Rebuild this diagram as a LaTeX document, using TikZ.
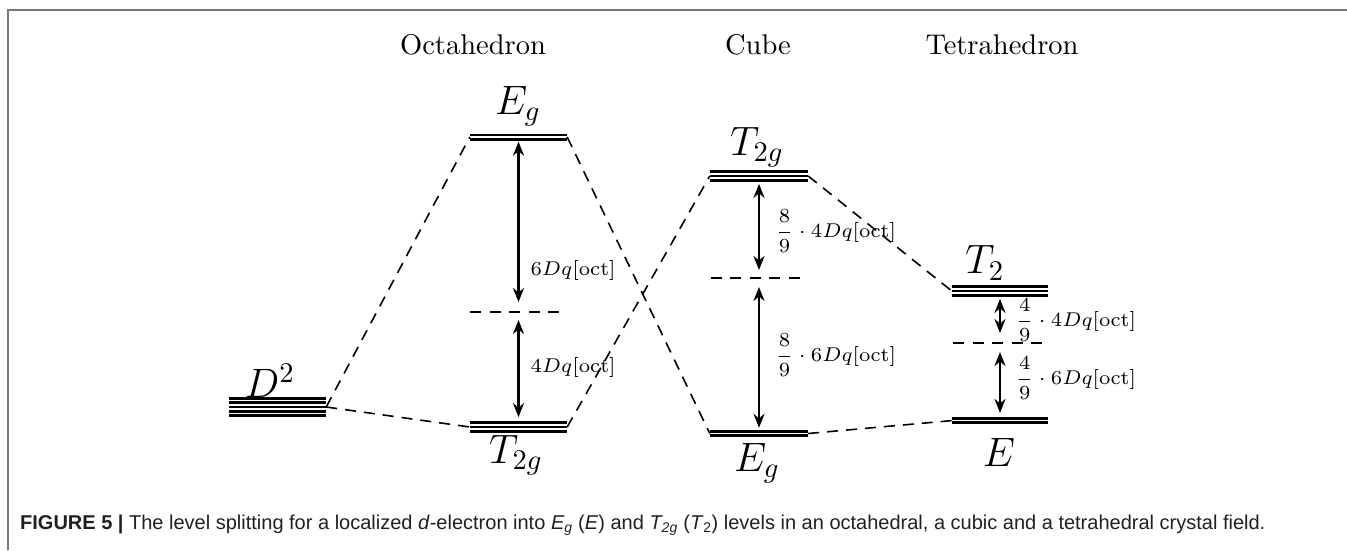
\documentclass[tikz,border=0pt]{standalone}
\usepackage{fontspec}
\newfontfamily\capfont{Liberation Sans}
\usetikzlibrary{arrows.meta}
\definecolor{framegray}{RGB}{120,120,120}
\definecolor{captext}{RGB}{35,31,32}
\begin{document}
\begin{tikzpicture}[x=1pt,y=-1pt,
  lvl/.style={line width=2.7pt},
  two/.style={inner sep=0pt, minimum height=7pt},
  three/.style={inner sep=0pt, minimum height=11.3pt},
  five/.style={inner sep=0pt, minimum height=19.5pt},
  midnode/.style={inner sep=0pt, minimum height=0pt},
  conn/.style={line width=1.6pt, dash pattern=on 11pt off 8pt},
  mid/.style={line width=1.6pt, dash pattern=on 11pt off 8.5pt},
  gap/.style={line width=2.3pt, {Stealth[length=14pt,width=11pt]}-{Stealth[length=14pt,width=11pt]}},
  title/.style={scale=2.85, inner sep=0pt},
  sym/.style={scale=2.85, font=\Large, inner sep=0pt},
  val/.style={scale=2.85, font=\scriptsize, inner sep=0pt, anchor=west},
  fval/.style={scale=2.6, font=\scriptsize, inner sep=0pt, anchor=west},
]
\useasboundingbox (0,0) rectangle (1347,550);
\draw[framegray, line width=2pt] (8,550) -- (8,10) -- (1347,10);

% titles
\node[title] (tOct) at (473,45) {Octahedron};
\node[title] (tCube) at (758,45) {Cube};
\node[title] (tTet) at (1002,45) {Tetrahedron};

% level nodes
\node[five, minimum width=97pt] (D2) at (277.5,407) {};
\node[two, minimum width=97pt] (octEg) at (518.5,137) {};
\node[three, minimum width=97pt] (octT) at (518.5,427) {};
\node[midnode, minimum width=96pt] (octMid) at (518.5,312) {};
\node[three, minimum width=98pt] (cubeT) at (759,176) {};
\node[midnode, minimum width=96pt] (cubeMid) at (759,278) {};
\node[two, minimum width=98pt] (cubeEg) at (759,433.5) {};
\node[three, minimum width=96pt] (tetT) at (1000,291) {};
\node[midnode, minimum width=93pt] (tetMid) at (1000,343) {};
\node[two, minimum width=96pt] (tetE) at (1000,420.6) {};

% level lines
\foreach \o in {-8.4,-4.2,0,4.2,8.4} \draw[lvl] ([yshift=\o pt]D2.west) -- ([yshift=\o pt]D2.east);
\foreach \n in {octEg,cubeEg,tetE}
  \foreach \o in {-2.15,2.15} \draw[lvl] ([yshift=\o pt]\n.west) -- ([yshift=\o pt]\n.east);
\foreach \n in {octT,cubeT,tetT}
  \foreach \o in {-4.3,0,4.3} \draw[lvl] ([yshift=\o pt]\n.west) -- ([yshift=\o pt]\n.east);
\foreach \n in {octMid,cubeMid,tetMid}
  \draw[mid] (\n.west) -- (\n.east);

% connectors
\draw[conn] (D2.east) -- (octEg.west);
\draw[conn] (D2.east) -- (octT.west);
\draw[conn] (octEg.east) -- (cubeEg.west);
\draw[conn] (octT.east) -- (cubeT.west);
\draw[conn] (cubeT.east) -- (tetT.west);
\draw[conn] (cubeEg.east) -- (tetE.west);

% arrows
\draw[gap, shorten <=1pt, shorten >=10pt] (octEg.south) -- (octMid.center);
\draw[gap, shorten <=8pt, shorten >=4pt] (octMid.center) -- (octT.north);
\draw[gap, shorten <=2pt, shorten >=8pt] (cubeT.south) -- (cubeMid.center);
\draw[gap, shorten <=9pt, shorten >=2pt] (cubeMid.center) -- (cubeEg.north);
\draw[gap, shorten <=2pt, shorten >=10pt] (tetT.south) -- (tetMid.center);
\draw[gap, shorten <=9pt, shorten >=4pt] (tetMid.center) -- (tetE.north);

% symbols
\node[sym] (lD2) at (270,381) {$D^2$};
\node[sym] (lOctEg) at (518,106) {$E_g$};
\node[sym] (lOctT) at (516,455) {$T_{2g}$};
\node[sym] (lCubeT) at (757,147) {$T_{2g}$};
\node[sym] (lCubeEg) at (757,463) {$E_g$};
\node[sym] (lTetT) at (985,263) {$T_2$};
\node[sym] (lTetE) at (999,452) {$E$};

% gap values
\node[val] (v1) at (530,271) {$6Dq[\mathrm{oct}]$};
\node[val] (v2) at (530,368) {$4Dq[\mathrm{oct}]$};
\node[val] (v3) at (775,231) {$\displaystyle\frac{8}{9}\cdot 4Dq[\mathrm{oct}]$};
\node[val] (v4) at (775,355) {$\displaystyle\frac{8}{9}\cdot 6Dq[\mathrm{oct}]$};
\node[val] (v5) at (1015,320) {$\displaystyle\frac{4}{9}\cdot 4Dq[\mathrm{oct}]$};
\node[val] (v6) at (1015,378) {$\displaystyle\frac{4}{9}\cdot 6Dq[\mathrm{oct}]$};

% caption
\node[anchor=base west, inner sep=0pt, text=captext, font=\capfont\fontsize{20}{24}\selectfont] (cap) at (20,529)
 {\textbf{FIGURE 5 |} The level splitting for a localized \textit{d}-electron into \textit{E\textsubscript{g}} (\textit{E}) and \textit{T\textsubscript{2g}} (\textit{T}\textsubscript{2}) levels in an octahedral, a cubic and a tetrahedral crystal field.};
\end{tikzpicture}
\end{document}
